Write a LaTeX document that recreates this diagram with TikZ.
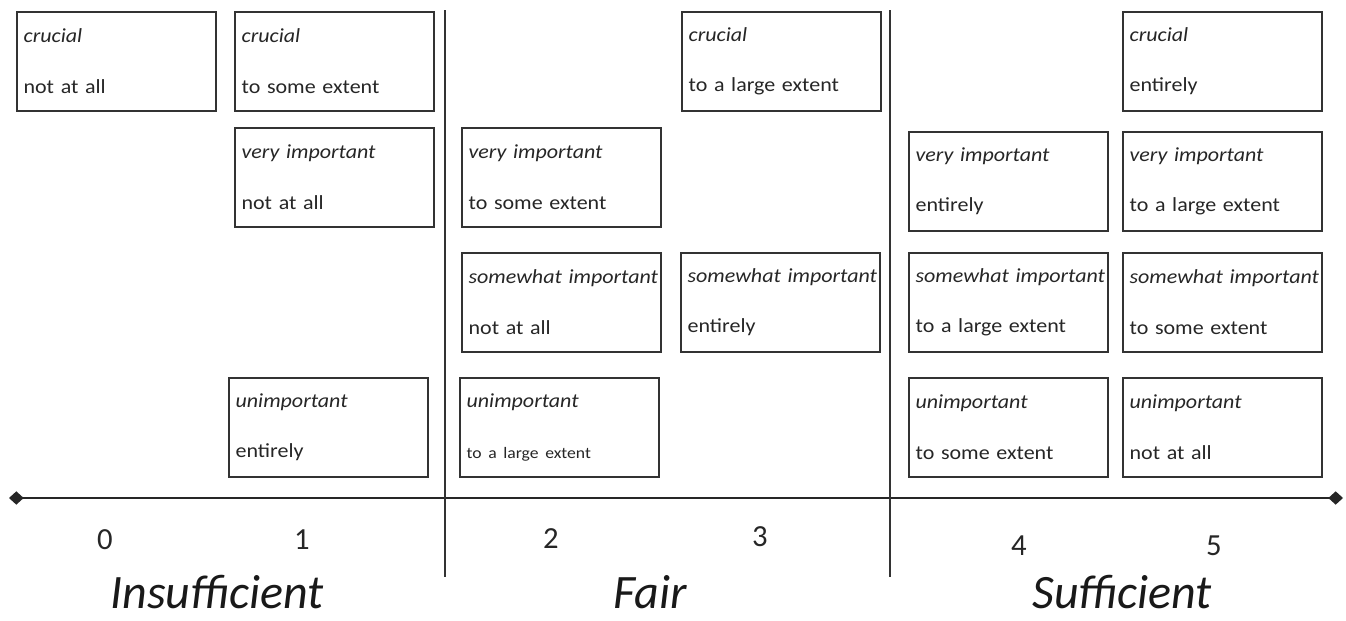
\documentclass[tikz,border=0pt]{standalone}
\usepackage{fontspec}
\setmainfont{Carlito}
\newfontfamily\cellfont[FakeStretch=1.1]{Carlito}
\usetikzlibrary{arrows.meta}
\usetikzlibrary{positioning}

\newcommand{\celltext}[2]{\mbox{\textit{#1}}\\[20pt]#2}

\begin{document}
\begin{tikzpicture}[x=0.75pt, y=-0.75pt,
cell/.style={rectangle, draw=black!80, line width=1.4pt, anchor=north west, minimum width=149pt, minimum height=74pt, text width=139pt, inner xsep=5pt, align=left, text=black!85, font=\cellfont\fontsize{15}{18}\selectfont},
score/.style={text=black!85, font=\fontsize{23}{26}\selectfont},
level/.style={text=black!90, inner sep=0pt, font=\fontsize{36}{38}\selectfont\itshape},
divider/.style={line width=1.5pt, black!80},
]
\useasboundingbox (0,0) rectangle (1346,621);
% cells, by row
\node[cell](crucial0) at (16,11){\celltext{crucial}{not at all}};
\node[cell](crucial1) at (234,11){\celltext{crucial}{to some extent}};
\node[cell](crucial3) at (681,11){\celltext{crucial}{to a large extent}};
\node[cell](crucial5) at (1122,11){\celltext{crucial}{entirely}};
\node[cell](vimp1) at (234,127){\celltext{very important}{not at all}};
\node[cell](vimp2) at (461,127){\celltext{very important}{to some extent}};
\node[cell](vimp4) at (908,131){\celltext{very important}{entirely}};
\node[cell](vimp5) at (1122,131){\celltext{very important}{to a large extent}};
\node[cell](simp2) at (461,252){\celltext{somewhat important}{not at all}};
\node[cell](simp3) at (680,252){\celltext{somewhat important}{entirely}};
\node[cell](simp4) at (908,252){\celltext{somewhat important}{to a large extent}};
\node[cell](simp5) at (1122,252){\celltext{somewhat important}{to some extent}};
\node[cell](unimp1) at (228,377){\celltext{unimportant}{entirely}};
\node[cell](unimp2) at (459,377){\celltext{unimportant}{{\fontsize{12}{14}\selectfont to a large extent}}};
\node[cell](unimp4) at (908,377){\celltext{unimportant}{to some extent}};
\node[cell](unimp5) at (1122,377){\celltext{unimportant}{not at all}};
% axis and dividers
\coordinate (axL) at (9,498);
\coordinate (axR) at (1343,498);
\draw[line width=1.6pt, black!85, {Diamond[length=11pt,width=10pt]}-{Diamond[length=11pt,width=10pt]}] (axL) -- (axR);
\coordinate (d1top) at (445,10);
\coordinate (d1bot) at (445,577);
\coordinate (d2top) at (890,10);
\coordinate (d2bot) at (890,577);
\draw[divider] (d1top) -- (d1bot);
\draw[divider] (d2top) -- (d2bot);
% scores
\node[score](s0) at (105,540){0};
\node[score](s1) at (302,540){1};
\node[score](s2) at (551,539){2};
\node[score](s3) at (760,537){3};
\node[score](s4) at (1019,546){4};
\node[score](s5) at (1214,546){5};
% levels
\node[level](insuff) at (217,592){Insufficient};
\node[level](fair) at (650,592){Fair};
\node[level](suff) at (1122,592){Sufficient};
\end{tikzpicture}
\end{document}
